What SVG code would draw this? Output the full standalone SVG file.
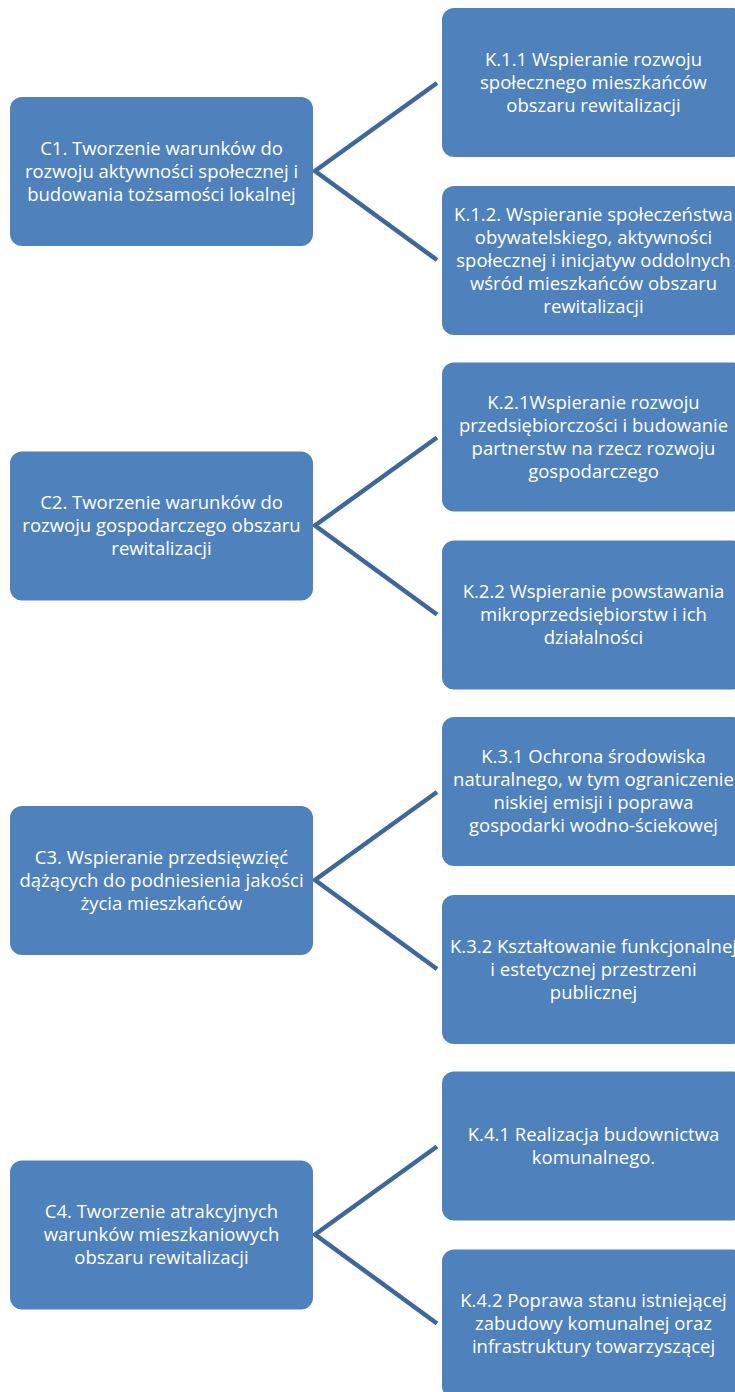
<svg xmlns="http://www.w3.org/2000/svg" width="735" height="1392" viewBox="0 0 735 1392">
<style>
.box{fill:#4f81bd;}
.t{font-family:"Open Sans","Liberation Sans",sans-serif;font-size:18.5px;fill:#ffffff;text-anchor:middle;}
.c{fill:none;stroke:#3e679a;stroke-width:4.5;stroke-linejoin:miter;}
</style>
<rect width="735" height="1392" fill="#ffffff"/>
<g id="connectors">
<path class="c" d="M437,83 L315,171 L437,260"/>
<path class="c" d="M437,437.5 L315,525.5 L437,614.5"/>
<path class="c" d="M437,792 L315,880 L437,969"/>
<path class="c" d="M437,1146.5 L315,1234.5 L437,1323.5"/>
</g>
<g id="C1"><rect class="box" x="10" y="97" width="303" height="149" rx="12"/>
<text class="t"><tspan x="161.5" y="154.5">C1. Tworzenie warunków do</tspan><tspan x="161.5" y="177.5">rozwoju aktywności społecznej i</tspan><tspan x="161.5" y="200.5">budowania tożsamości lokalnej</tspan></text></g>
<g id="K11"><rect class="box" x="442" y="8" width="303" height="149" rx="12"/>
<text class="t"><tspan x="593.5" y="65.5">K.1.1 Wspieranie rozwoju</tspan><tspan x="593.5" y="88.5">społecznego mieszkańców</tspan><tspan x="593.5" y="111.5">obszaru rewitalizacji</tspan></text></g>
<g id="K12"><rect class="box" x="442" y="186" width="303" height="149" rx="12"/>
<text class="t"><tspan x="593.5" y="220.5">K.1.2. Wspieranie społeczeństwa</tspan><tspan x="593.5" y="243.5">obywatelskiego, aktywności</tspan><tspan x="593.5" y="266.5">społecznej i inicjatyw oddolnych</tspan><tspan x="593.5" y="289.5">wśród mieszkańców obszaru</tspan><tspan x="593.5" y="312.5">rewitalizacji</tspan></text></g>
<g id="C2"><rect class="box" x="10" y="451.5" width="303" height="149" rx="12"/>
<text class="t"><tspan x="161.5" y="509">C2. Tworzenie warunków do</tspan><tspan x="161.5" y="532">rozwoju gospodarczego obszaru</tspan><tspan x="161.5" y="555">rewitalizacji</tspan></text></g>
<g id="K21"><rect class="box" x="442" y="362.5" width="303" height="149" rx="12"/>
<text class="t"><tspan x="593.5" y="408.5">K.2.1Wspieranie rozwoju</tspan><tspan x="593.5" y="431.5">przedsiębiorczości i budowanie</tspan><tspan x="593.5" y="454.5">partnerstw na rzecz rozwoju</tspan><tspan x="593.5" y="477.5">gospodarczego</tspan></text></g>
<g id="K22"><rect class="box" x="442" y="540.5" width="303" height="149" rx="12"/>
<text class="t"><tspan x="593.5" y="598">K.2.2 Wspieranie powstawania</tspan><tspan x="593.5" y="621">mikroprzedsiębiorstw i ich</tspan><tspan x="593.5" y="644">działalności</tspan></text></g>
<g id="C3"><rect class="box" x="10" y="806" width="303" height="149" rx="12"/>
<text class="t"><tspan x="161.5" y="863.5">C3. Wspieranie przedsięwzięć</tspan><tspan x="161.5" y="886.5">dążących do podniesienia jakości</tspan><tspan x="161.5" y="909.5">życia mieszkańców</tspan></text></g>
<g id="K31"><rect class="box" x="442" y="717" width="303" height="149" rx="12"/>
<text class="t"><tspan x="593.5" y="763">K.3.1 Ochrona środowiska</tspan><tspan x="593.5" y="786">naturalnego, w tym ograniczenie</tspan><tspan x="593.5" y="809">niskiej emisji i poprawa</tspan><tspan x="593.5" y="832">gospodarki wodno-ściekowej</tspan></text></g>
<g id="K32"><rect class="box" x="442" y="895" width="303" height="149" rx="12"/>
<text class="t"><tspan x="593.5" y="952.5">K.3.2 Kształtowanie funkcjonalnej</tspan><tspan x="593.5" y="975.5">i estetycznej przestrzeni</tspan><tspan x="593.5" y="998.5">publicznej</tspan></text></g>
<g id="C4"><rect class="box" x="10" y="1160.5" width="303" height="149" rx="12"/>
<text class="t"><tspan x="161.5" y="1218">C4. Tworzenie atrakcyjnych</tspan><tspan x="161.5" y="1241">warunków mieszkaniowych</tspan><tspan x="161.5" y="1264">obszaru rewitalizacji</tspan></text></g>
<g id="K41"><rect class="box" x="442" y="1071.5" width="303" height="149" rx="12"/>
<text class="t"><tspan x="593.5" y="1140.5">K.4.1 Realizacja budownictwa</tspan><tspan x="593.5" y="1163.5">komunalnego.</tspan></text></g>
<g id="K42"><rect class="box" x="442" y="1249.5" width="303" height="149" rx="12"/>
<text class="t"><tspan x="593.5" y="1307">K.4.2 Poprawa stanu istniejącej</tspan><tspan x="593.5" y="1330">zabudowy komunalnej oraz</tspan><tspan x="593.5" y="1353">infrastruktury towarzyszącej</tspan></text></g>
</svg>
